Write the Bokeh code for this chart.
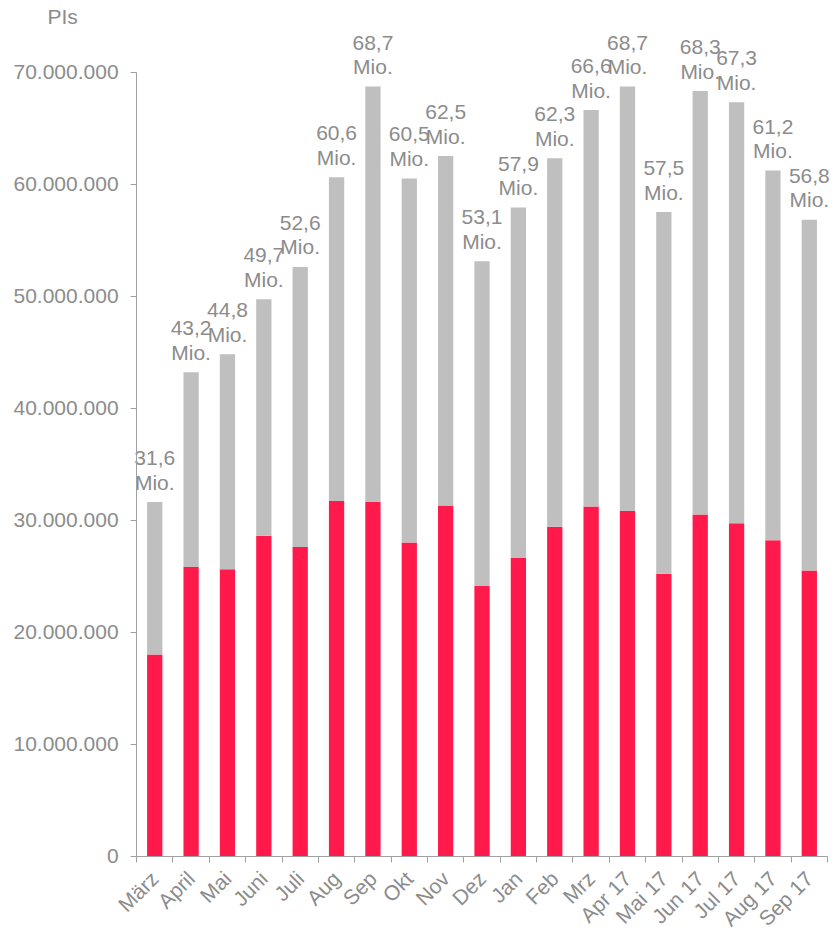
import math
from bokeh.plotting import figure
from bokeh.models import Range1d, FixedTicker, ColumnDataSource
from bokeh.core.properties import value
from bokeh.embed import file_html
from bokeh.resources import INLINE

# ---- data ----
categories = ["März", "April", "Mai", "Juni", "Juli", "Aug", "Sep", "Okt", "Nov", "Dez",
              "Jan", "Feb", "Mrz", "Apr 17", "Mai 17", "Jun 17", "Jul 17", "Aug 17", "Sep 17"]
total_mio = [31.6, 43.2, 44.8, 49.7, 52.6, 60.6, 68.7, 60.5, 62.5, 53.1,
             57.9, 62.3, 66.6, 68.7, 57.5, 68.3, 67.3, 61.2, 56.8]
red_mio = [18.0, 25.8, 25.6, 28.6, 27.6, 31.7, 31.6, 28.0, 31.3, 24.1,
           26.6, 29.4, 31.2, 30.8, 25.2, 30.5, 29.7, 28.2, 25.5]
y_ticks = [0, 10_000_000, 20_000_000, 30_000_000, 40_000_000, 50_000_000, 60_000_000, 70_000_000]
y_tick_labels = ["0", "10.000.000", "20.000.000", "30.000.000", "40.000.000",
                 "50.000.000", "60.000.000", "70.000.000"]
y_title = "PIs"

FONT = "Liberation Sans"
TXT = "#8c8c8c"
AX = "#a0a0a0"
RED = "#ff1a4b"
GREY = "#bfbfbf"

n = len(categories)
xs = list(range(n))
totals = [v * 1e6 for v in total_mio]
reds = [v * 1e6 for v in red_mio]
val_labels = [f"{v:.1f}".replace(".", ",") for v in total_mio]

src = ColumnDataSource(dict(x=xs, total=totals, red=reds, lab=val_labels,
                            mio=["Mio."] * n))

W, H = 838, 931
px_per_cat = 36.35
px_per_mio = 11.2
left_px, right_px = 136, 11
bottom_px, top_px = 75.5, 855.5
x_start = -0.5 - left_px / px_per_cat
x_end = n - 0.5 + right_px / px_per_cat
y_start = -bottom_px / px_per_mio * 1e6
y_end = top_px / px_per_mio * 1e6

p = figure(width=W, height=H, output_backend="svg", toolbar_location=None,
           x_range=Range1d(x_start, x_end), y_range=Range1d(y_start, y_end),
           min_border=0)
p.outline_line_color = None
p.xgrid.visible = False
p.ygrid.visible = False
p.background_fill_color = "white"
p.border_fill_color = "white"

p.vbar(x="x", bottom=0, top="red", width=0.42, source=src, fill_color=RED, line_color=None)
p.vbar(x="x", bottom="red", top="total", width=0.42, source=src, fill_color=GREY, line_color=None)

common = dict(text_font=value(FONT), text_font_size="21px", text_color=TXT,
              text_align="center", text_baseline="alphabetic")
p.text(x="x", y="total", text="mio", y_offset=-20, source=src, **common)
p.text(x="x", y="total", text="lab", y_offset=-44, source=src, **common)

# title "PIs" at top-left
p.text(x=[x_start + 47 / px_per_cat], y=[y_end - 16 / px_per_mio * 1e6], text=[y_title],
       text_font=value(FONT), text_font_size="21px", text_color=TXT,
       text_align="left", text_baseline="alphabetic")

# y axis
ya = p.yaxis[0]
ya.fixed_location = -0.5
ya.ticker = FixedTicker(ticks=y_ticks)
ya.major_label_overrides = {t: l for t, l in zip(y_ticks, y_tick_labels)}
ya.bounds = (0, 70_000_000)
ya.axis_line_color = AX
ya.major_tick_line_color = AX
ya.major_tick_out = 6
ya.major_tick_in = 0
ya.minor_tick_line_color = None
ya.major_label_text_font = FONT
ya.major_label_text_font_size = "21px"
ya.major_label_text_color = TXT
ya.major_label_standoff = 12

# x axis
xa = p.xaxis[0]
xa.fixed_location = 0
xa.bounds = (-0.5, n - 0.5)
xa.ticker = FixedTicker(ticks=xs, minor_ticks=[i - 0.5 for i in range(n + 1)])
xa.major_label_overrides = {i: c for i, c in enumerate(categories)}
xa.axis_line_color = AX
xa.major_tick_line_color = None
xa.major_tick_out = 0
xa.major_tick_in = 0
xa.minor_tick_line_color = AX
xa.minor_tick_out = 6
xa.minor_tick_in = 0
xa.major_label_orientation = math.pi / 4
xa.major_label_text_font = FONT
xa.major_label_text_font_size = "21px"
xa.major_label_text_color = TXT
xa.major_label_standoff = 13

open("out.html", "w").write(file_html(p, INLINE))
